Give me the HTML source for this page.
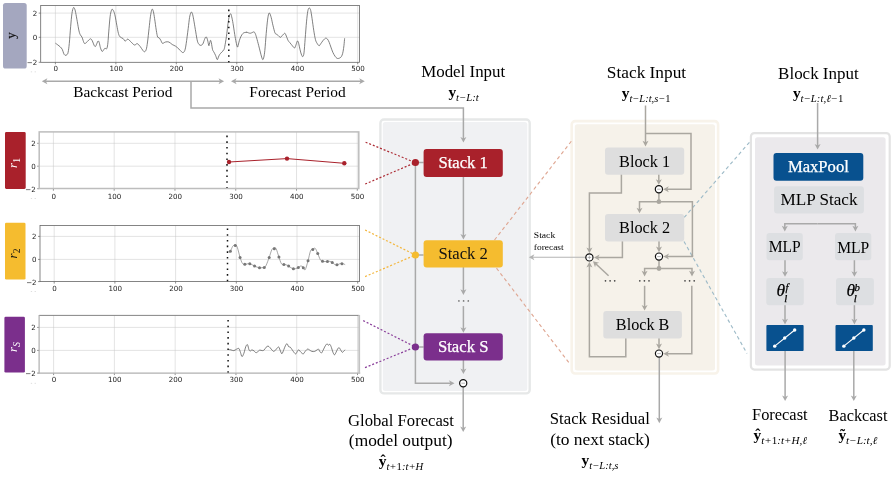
<!DOCTYPE html>
<html lang="en">
<head>
<meta charset="utf-8">
<title>N-HiTS architecture</title>
<style>
html,body{margin:0;padding:0;background:#fff;}
body{width:893px;height:478px;overflow:hidden;font-family:"Liberation Serif",serif;}
svg{display:block;will-change:transform;}
</style>
</head>
<body>
<svg width="893" height="478" viewBox="0 0 893 478">
<rect x="0" y="0" width="893" height="478" fill="#ffffff"/>
<rect x="750.90" y="133.10" width="138.80" height="236.50" rx="3.5" fill="#fff" stroke="#e3e3e3" stroke-width="2.2"/><rect x="755.00" y="137.20" width="130.60" height="228.30" rx="2.5" fill="#ebe9ec"/>
<rect x="571.70" y="121.10" width="146.40" height="252.40" rx="3.5" fill="#fff" stroke="#f8f3ea" stroke-width="2.6"/><rect x="574.80" y="124.20" width="140.20" height="246.20" rx="2.5" fill="#f6f2ea"/>
<rect x="380.40" y="119.50" width="149.30" height="273.90" rx="3.5" fill="#fff" stroke="#e6e8e8" stroke-width="2.4"/><rect x="382.80" y="121.90" width="144.50" height="269.10" rx="2.5" fill="#f0f1f3"/>
<rect x="3.00" y="3.00" width="23.70" height="65.60" rx="2.6" fill="#a4a7bf"/><text transform="translate(14.9,35.6) rotate(-90)" font-family="'Liberation Serif', serif" font-size="13" text-anchor="middle" fill="#111" stroke="#111" stroke-width="0.2">y</text>
<rect x="40.70" y="5.50" width="318.70" height="56.80" fill="#fff"/><line x1="55.40" y1="5.50" x2="55.40" y2="62.30" stroke="#c6c6c6" stroke-width="0.5"/><line x1="55.40" y1="62.30" x2="55.40" y2="64.30" stroke="#444" stroke-width="0.6"/><text x="55.70" y="71.10" font-family="'DejaVu Sans', sans-serif" font-size="7.1" text-anchor="middle" fill="#222">0</text><line x1="115.86" y1="5.50" x2="115.86" y2="62.30" stroke="#c6c6c6" stroke-width="0.5"/><line x1="115.86" y1="62.30" x2="115.86" y2="64.30" stroke="#444" stroke-width="0.6"/><text x="116.16" y="71.10" font-family="'DejaVu Sans', sans-serif" font-size="7.1" text-anchor="middle" fill="#222">100</text><line x1="176.32" y1="5.50" x2="176.32" y2="62.30" stroke="#c6c6c6" stroke-width="0.5"/><line x1="176.32" y1="62.30" x2="176.32" y2="64.30" stroke="#444" stroke-width="0.6"/><text x="176.62" y="71.10" font-family="'DejaVu Sans', sans-serif" font-size="7.1" text-anchor="middle" fill="#222">200</text><line x1="236.78" y1="5.50" x2="236.78" y2="62.30" stroke="#c6c6c6" stroke-width="0.5"/><line x1="236.78" y1="62.30" x2="236.78" y2="64.30" stroke="#444" stroke-width="0.6"/><text x="237.08" y="71.10" font-family="'DejaVu Sans', sans-serif" font-size="7.1" text-anchor="middle" fill="#222">300</text><line x1="297.24" y1="5.50" x2="297.24" y2="62.30" stroke="#c6c6c6" stroke-width="0.5"/><line x1="297.24" y1="62.30" x2="297.24" y2="64.30" stroke="#444" stroke-width="0.6"/><text x="297.54" y="71.10" font-family="'DejaVu Sans', sans-serif" font-size="7.1" text-anchor="middle" fill="#222">400</text><line x1="357.70" y1="5.50" x2="357.70" y2="62.30" stroke="#c6c6c6" stroke-width="0.5"/><line x1="357.70" y1="62.30" x2="357.70" y2="64.30" stroke="#444" stroke-width="0.6"/><text x="358.00" y="71.10" font-family="'DejaVu Sans', sans-serif" font-size="7.1" text-anchor="middle" fill="#222">500</text><line x1="40.70" y1="13.10" x2="359.40" y2="13.10" stroke="#c6c6c6" stroke-width="0.5"/><line x1="38.70" y1="13.10" x2="40.70" y2="13.10" stroke="#444" stroke-width="0.6"/><text x="37.30" y="16.10" font-family="'DejaVu Sans', sans-serif" font-size="7.1" text-anchor="end" fill="#222">2</text><line x1="40.70" y1="37.30" x2="359.40" y2="37.30" stroke="#c6c6c6" stroke-width="0.5"/><line x1="38.70" y1="37.30" x2="40.70" y2="37.30" stroke="#444" stroke-width="0.6"/><text x="37.30" y="40.30" font-family="'DejaVu Sans', sans-serif" font-size="7.1" text-anchor="end" fill="#222">0</text><line x1="38.70" y1="62.30" x2="40.70" y2="62.30" stroke="#444" stroke-width="0.6"/><text x="37.30" y="65.30" font-family="'DejaVu Sans', sans-serif" font-size="7.1" text-anchor="end" fill="#222">−2</text>
<path d="M55.40,43.18C55.79,43.46 56.93,44.24 57.74,44.85C58.55,45.47 59.50,46.11 60.25,46.86C61.00,47.62 61.70,48.31 62.26,49.37C62.82,50.43 63.15,52.25 63.60,53.22C64.04,54.20 64.38,54.98 64.94,55.23C65.50,55.48 66.42,55.23 66.95,54.73C67.48,54.23 67.73,54.09 68.12,52.22C68.51,50.35 68.87,47.75 69.29,43.51C69.71,39.27 70.18,31.80 70.63,26.78C71.07,21.76 71.52,16.54 71.97,13.39C72.41,10.24 72.89,8.70 73.31,7.87C73.72,7.03 74.09,7.59 74.48,8.37C74.87,9.15 75.17,10.32 75.65,12.55C76.12,14.78 76.76,18.69 77.32,21.76C77.88,24.83 78.49,28.79 79.00,30.96C79.50,33.14 79.83,33.78 80.33,34.81C80.84,35.84 81.53,36.18 82.01,37.15C82.48,38.13 82.76,39.61 83.18,40.67C83.60,41.73 84.02,43.18 84.52,43.51C85.02,43.85 85.50,43.24 86.19,42.68C86.89,42.12 87.95,40.81 88.70,40.17C89.46,39.53 90.10,38.69 90.71,38.83C91.32,38.97 91.83,39.94 92.38,41.00C92.94,42.06 93.56,44.27 94.06,45.19C94.56,46.11 94.95,46.75 95.40,46.53C95.84,46.30 96.29,44.77 96.74,43.85C97.18,42.93 97.66,41.20 98.08,41.00C98.49,40.81 98.86,41.56 99.25,42.68C99.64,43.79 99.94,46.25 100.42,47.70C100.89,49.15 101.53,51.05 102.09,51.38C102.65,51.72 103.29,50.24 103.77,49.71C104.24,49.18 104.52,48.34 104.94,48.20C105.36,48.06 105.92,48.92 106.28,48.87C106.63,48.82 106.79,48.88 107.06,47.88C107.33,46.87 107.62,45.50 107.90,42.84C108.18,40.18 108.37,36.26 108.74,31.92C109.10,27.58 109.66,20.30 110.08,16.80C110.50,13.30 110.89,12.18 111.25,10.92C111.62,9.66 111.84,9.16 112.26,9.24C112.68,9.32 113.30,10.30 113.77,11.42C114.25,12.54 114.61,13.66 115.12,15.96C115.62,18.25 116.24,22.26 116.80,25.20C117.36,28.14 117.92,31.64 118.48,33.60C119.04,35.56 119.37,36.12 120.16,36.96C120.94,37.80 122.34,37.94 123.18,38.64C124.02,39.34 124.44,41.07 125.20,41.16C125.95,41.24 126.74,39.00 127.72,39.14C128.70,39.28 129.96,41.02 131.08,42.00C132.20,42.98 133.40,44.74 134.44,45.02C135.47,45.30 136.31,43.40 137.29,43.68C138.27,43.96 139.39,45.58 140.32,46.70C141.24,47.82 142.14,49.55 142.84,50.39C143.54,51.23 143.96,51.88 144.52,51.74C145.08,51.60 145.69,51.18 146.20,49.55C146.70,47.93 147.06,45.50 147.54,42.00C148.02,38.50 148.57,32.76 149.05,28.56C149.53,24.36 149.97,19.82 150.39,16.80C150.81,13.77 151.23,11.67 151.57,10.41C151.91,9.16 152.10,9.02 152.41,9.24C152.72,9.46 153.05,10.22 153.42,11.76C153.78,13.30 154.12,15.40 154.59,18.48C155.07,21.56 155.77,27.16 156.27,30.24C156.78,33.32 157.14,35.70 157.62,36.96C158.09,38.22 158.60,37.24 159.13,37.80C159.66,38.36 160.25,39.39 160.81,40.32C161.37,41.24 161.71,43.06 162.49,43.34C163.27,43.62 164.45,42.22 165.51,42.00C166.58,41.77 167.75,41.58 168.87,42.00C169.99,42.42 171.11,43.82 172.23,44.52C173.35,45.22 174.47,45.44 175.59,46.20C176.71,46.95 177.97,48.13 178.95,49.05C179.93,49.97 180.77,51.15 181.47,51.74C182.17,52.33 182.59,52.80 183.15,52.58C183.71,52.35 184.33,51.88 184.83,50.39C185.34,48.91 185.62,47.32 186.18,43.68C186.73,40.04 187.63,32.90 188.19,28.56C188.75,24.22 189.11,20.21 189.53,17.64C189.95,15.06 190.37,14.03 190.71,13.10C191.05,12.18 191.21,11.81 191.55,12.09C191.89,12.37 192.31,13.16 192.73,14.78C193.15,16.41 193.57,18.98 194.07,21.84C194.57,24.69 195.19,28.70 195.75,31.92C196.31,35.14 196.87,39.06 197.43,41.16C197.99,43.26 198.55,43.82 199.11,44.52C199.67,45.22 200.17,45.44 200.79,45.36C201.41,45.27 202.19,44.99 202.81,44.01C203.42,43.03 203.98,40.65 204.49,39.48C204.99,38.30 205.44,37.24 205.83,36.96C206.22,36.68 206.50,37.10 206.84,37.80C207.17,38.50 207.51,39.84 207.84,41.16C208.18,42.47 208.54,45.41 208.85,45.69C209.16,45.97 209.41,43.73 209.69,42.84C209.97,41.94 210.25,40.32 210.53,40.32C210.81,40.32 211.04,41.30 211.37,42.84C211.71,44.38 212.13,48.02 212.55,49.55C212.97,51.09 213.39,51.09 213.89,52.07C214.40,53.05 215.01,54.17 215.57,55.43C216.13,56.69 216.78,59.35 217.25,59.63C217.73,59.91 218.04,57.95 218.43,57.11C218.82,56.27 219.04,55.43 219.60,54.59C220.16,53.75 221.06,52.91 221.79,52.07C222.52,51.23 223.41,50.81 223.97,49.55C224.53,48.29 224.67,47.18 225.15,44.52C225.62,41.86 226.35,37.10 226.83,33.60C227.30,30.10 227.58,26.46 228.00,23.52C228.42,20.58 228.90,17.58 229.35,15.96C229.79,14.33 230.30,13.63 230.69,13.77C231.08,13.91 231.31,15.17 231.70,16.80C232.09,18.42 232.54,20.58 233.04,23.52C233.55,26.46 234.22,31.36 234.72,34.44C235.23,37.52 235.62,39.90 236.07,42.00C236.51,44.10 237.05,46.53 237.41,47.04C237.77,47.54 237.91,46.14 238.25,45.02C238.59,43.90 238.95,41.80 239.43,40.32C239.90,38.83 240.55,37.24 241.11,36.12C241.67,35.00 242.23,34.18 242.79,33.60C243.35,33.01 243.77,32.81 244.46,32.59C245.16,32.36 246.58,32.31 246.98,32.25C247.39,32.20 246.34,32.08 246.88,32.25C247.42,32.42 249.26,33.26 250.24,33.26C251.22,33.26 252.11,32.48 252.76,32.25C253.40,32.03 253.68,31.69 254.10,31.92C254.52,32.14 254.86,32.62 255.28,33.60C255.70,34.58 256.06,35.84 256.62,37.80C257.18,39.76 258.02,42.98 258.64,45.36C259.25,47.74 259.81,50.11 260.32,52.07C260.82,54.03 261.24,55.85 261.66,57.11C262.08,58.37 262.47,59.63 262.84,59.63C263.20,59.63 263.51,58.65 263.84,57.11C264.18,55.57 264.46,54.31 264.85,50.39C265.24,46.48 265.75,38.64 266.20,33.60C266.64,28.56 267.12,23.46 267.54,20.16C267.96,16.85 268.35,14.89 268.71,13.77C269.08,12.65 269.30,12.79 269.72,13.44C270.14,14.08 270.70,15.68 271.23,17.64C271.77,19.60 272.30,22.68 272.91,25.20C273.53,27.72 274.37,31.27 274.93,32.76C275.49,34.24 275.77,33.68 276.27,34.10C276.78,34.52 277.25,34.74 277.95,35.28C278.65,35.81 279.72,37.29 280.47,37.29C281.23,37.29 281.79,35.95 282.49,35.28C283.19,34.60 284.11,33.32 284.67,33.26C285.23,33.20 285.29,33.76 285.85,34.94C286.41,36.12 287.39,39.06 288.03,40.32C288.68,41.58 289.15,41.80 289.71,42.50C290.27,43.20 290.78,43.76 291.39,44.52C292.01,45.27 292.85,46.48 293.41,47.04C293.97,47.60 294.30,48.29 294.75,47.88C295.20,47.46 295.68,45.64 296.10,44.52C296.52,43.40 296.91,41.58 297.27,41.16C297.64,40.74 297.94,41.16 298.28,42.00C298.62,42.84 298.90,44.52 299.29,46.20C299.68,47.88 300.21,50.53 300.63,52.07C301.05,53.61 301.44,54.68 301.81,55.43C302.17,56.19 302.45,57.03 302.82,56.61C303.18,56.19 303.60,55.91 303.99,52.91C304.38,49.92 304.75,43.82 305.17,38.64C305.59,33.46 306.09,26.32 306.51,21.84C306.93,17.36 307.32,14.00 307.69,11.76C308.05,9.52 308.39,9.02 308.69,8.40C309.00,7.78 309.20,7.73 309.53,8.06C309.87,8.40 310.29,8.68 310.71,10.41C311.13,12.15 311.55,15.17 312.05,18.48C312.56,21.78 313.17,26.74 313.73,30.24C314.29,33.74 314.85,37.29 315.41,39.48C315.97,41.66 316.48,42.30 317.09,43.34C317.71,44.38 318.49,45.64 319.11,45.69C319.73,45.75 320.17,44.49 320.79,43.68C321.41,42.86 322.19,41.60 322.81,40.82C323.42,40.04 323.98,39.42 324.49,38.97C324.99,38.52 325.33,38.10 325.83,38.13C326.33,38.16 326.95,38.44 327.51,39.14C328.07,39.84 328.63,41.02 329.19,42.33C329.75,43.65 330.25,45.36 330.87,47.04C331.48,48.71 332.18,50.87 332.88,52.41C333.58,53.95 334.42,55.32 335.07,56.27C335.71,57.23 336.19,57.76 336.75,58.12C337.31,58.49 337.78,58.57 338.43,58.46C339.07,58.35 340.00,58.01 340.61,57.45C341.23,56.89 341.70,56.13 342.12,55.10C342.54,54.06 342.82,52.86 343.13,51.23C343.44,49.61 343.72,47.51 343.97,45.36C344.22,43.20 344.53,39.48 344.64,38.30" fill="none" stroke="#555" stroke-width="0.75" stroke-linejoin="round"/>
<line x1="228.80" y1="62.50" x2="228.80" y2="9.50" stroke="#111" stroke-width="1.5" stroke-dasharray="1.6 4.1"/>
<rect x="40.70" y="5.50" width="318.70" height="56.80" fill="none" stroke="#666" stroke-width="0.8"/>
<line x1="44.80" y1="81.30" x2="221.10" y2="81.30" stroke="#a9a9a9" stroke-width="1.5"/><polygon points="41.80,81.30 47.40,84.30 45.90,81.30 47.40,78.30" fill="#a9a9a9"/><polygon points="224.10,81.30 218.50,78.30 220.00,81.30 218.50,84.30" fill="#a9a9a9"/>
<line x1="234.00" y1="81.30" x2="361.80" y2="81.30" stroke="#a9a9a9" stroke-width="1.5"/><polygon points="231.00,81.30 236.60,84.30 235.10,81.30 236.60,78.30" fill="#a9a9a9"/><polygon points="364.80,81.30 359.20,78.30 360.70,81.30 359.20,84.30" fill="#a9a9a9"/>
<text x="122.80" y="96.50" font-family="'Liberation Serif', serif" font-size="15.5" text-anchor="middle" fill="#000" textLength="99.00" lengthAdjust="spacingAndGlyphs" >Backcast Period</text>
<text x="297.50" y="96.50" font-family="'Liberation Serif', serif" font-size="15.5" text-anchor="middle" fill="#000" textLength="96.30" lengthAdjust="spacingAndGlyphs" >Forecast Period</text>
<polyline points="191.00,81.30 191.00,108.00 463.40,108.00 463.40,139.60" fill="none" stroke="#a9a9a9" stroke-width="1.5" /><polygon points="463.40,142.60 466.40,137.00 463.40,138.50 460.40,137.00" fill="#a9a9a9"/>
<rect x="5.00" y="132.10" width="20.70" height="56.80" rx="1.3" fill="#a9212b"/><text transform="translate(16.7,163) rotate(-90)" font-family="'Liberation Serif', serif" font-style="italic" font-size="13" text-anchor="middle" fill="#fff">r<tspan font-style="normal" font-size="9.5" dy="3.2">1</tspan></text>
<rect x="39.20" y="131.90" width="319.60" height="56.80" fill="#fff"/><line x1="53.40" y1="131.90" x2="53.40" y2="188.70" stroke="#c6c6c6" stroke-width="0.5"/><line x1="53.40" y1="188.70" x2="53.40" y2="190.70" stroke="#444" stroke-width="0.6"/><text x="53.70" y="198.50" font-family="'DejaVu Sans', sans-serif" font-size="7.1" text-anchor="middle" fill="#222">0</text><line x1="114.18" y1="131.90" x2="114.18" y2="188.70" stroke="#c6c6c6" stroke-width="0.5"/><line x1="114.18" y1="188.70" x2="114.18" y2="190.70" stroke="#444" stroke-width="0.6"/><text x="114.48" y="198.50" font-family="'DejaVu Sans', sans-serif" font-size="7.1" text-anchor="middle" fill="#222">100</text><line x1="174.96" y1="131.90" x2="174.96" y2="188.70" stroke="#c6c6c6" stroke-width="0.5"/><line x1="174.96" y1="188.70" x2="174.96" y2="190.70" stroke="#444" stroke-width="0.6"/><text x="175.26" y="198.50" font-family="'DejaVu Sans', sans-serif" font-size="7.1" text-anchor="middle" fill="#222">200</text><line x1="235.74" y1="131.90" x2="235.74" y2="188.70" stroke="#c6c6c6" stroke-width="0.5"/><line x1="235.74" y1="188.70" x2="235.74" y2="190.70" stroke="#444" stroke-width="0.6"/><text x="236.04" y="198.50" font-family="'DejaVu Sans', sans-serif" font-size="7.1" text-anchor="middle" fill="#222">300</text><line x1="296.52" y1="131.90" x2="296.52" y2="188.70" stroke="#c6c6c6" stroke-width="0.5"/><line x1="296.52" y1="188.70" x2="296.52" y2="190.70" stroke="#444" stroke-width="0.6"/><text x="296.82" y="198.50" font-family="'DejaVu Sans', sans-serif" font-size="7.1" text-anchor="middle" fill="#222">400</text><line x1="357.30" y1="131.90" x2="357.30" y2="188.70" stroke="#c6c6c6" stroke-width="0.5"/><line x1="357.30" y1="188.70" x2="357.30" y2="190.70" stroke="#444" stroke-width="0.6"/><text x="357.60" y="198.50" font-family="'DejaVu Sans', sans-serif" font-size="7.1" text-anchor="middle" fill="#222">500</text><line x1="39.20" y1="143.30" x2="358.80" y2="143.30" stroke="#c6c6c6" stroke-width="0.5"/><line x1="37.20" y1="143.30" x2="39.20" y2="143.30" stroke="#444" stroke-width="0.6"/><text x="35.80" y="146.30" font-family="'DejaVu Sans', sans-serif" font-size="7.1" text-anchor="end" fill="#222">2</text><line x1="39.20" y1="166.20" x2="358.80" y2="166.20" stroke="#c6c6c6" stroke-width="0.5"/><line x1="37.20" y1="166.20" x2="39.20" y2="166.20" stroke="#444" stroke-width="0.6"/><text x="35.80" y="169.20" font-family="'DejaVu Sans', sans-serif" font-size="7.1" text-anchor="end" fill="#222">0</text><line x1="37.20" y1="188.70" x2="39.20" y2="188.70" stroke="#444" stroke-width="0.6"/><text x="35.80" y="191.70" font-family="'DejaVu Sans', sans-serif" font-size="7.1" text-anchor="end" fill="#222">−2</text>
<polyline points="229,162 287,158.6 344.3,163.3" fill="none" stroke="#a9212b" stroke-width="1"/>
<circle cx="229.00" cy="162.00" r="2.2" fill="#a9212b"/>
<circle cx="287.00" cy="158.60" r="2.2" fill="#a9212b"/>
<circle cx="344.30" cy="163.30" r="2.2" fill="#a9212b"/>
<line x1="227.00" y1="188.50" x2="227.00" y2="135.40" stroke="#111" stroke-width="1.5" stroke-dasharray="1.6 4.1"/>
<rect x="39.20" y="131.90" width="319.60" height="56.60" fill="none" stroke="#bdbdbd" stroke-width="1.5"/>
<rect x="5.00" y="222.80" width="20.50" height="56.70" rx="1.3" fill="#f5bc2f"/><text transform="translate(16.7,253.5) rotate(-90)" font-family="'Liberation Serif', serif" font-style="italic" font-size="13" text-anchor="middle" fill="#111">r<tspan font-style="normal" font-size="9.5" dy="3.2">2</tspan></text>
<rect x="40.00" y="225.50" width="319.40" height="56.10" fill="#fff"/><line x1="54.20" y1="225.50" x2="54.20" y2="281.60" stroke="#c6c6c6" stroke-width="0.5"/><line x1="54.20" y1="281.60" x2="54.20" y2="283.60" stroke="#444" stroke-width="0.6"/><text x="54.50" y="290.50" font-family="'DejaVu Sans', sans-serif" font-size="7.1" text-anchor="middle" fill="#222">0</text><line x1="114.90" y1="225.50" x2="114.90" y2="281.60" stroke="#c6c6c6" stroke-width="0.5"/><line x1="114.90" y1="281.60" x2="114.90" y2="283.60" stroke="#444" stroke-width="0.6"/><text x="115.20" y="290.50" font-family="'DejaVu Sans', sans-serif" font-size="7.1" text-anchor="middle" fill="#222">100</text><line x1="175.60" y1="225.50" x2="175.60" y2="281.60" stroke="#c6c6c6" stroke-width="0.5"/><line x1="175.60" y1="281.60" x2="175.60" y2="283.60" stroke="#444" stroke-width="0.6"/><text x="175.90" y="290.50" font-family="'DejaVu Sans', sans-serif" font-size="7.1" text-anchor="middle" fill="#222">200</text><line x1="236.30" y1="225.50" x2="236.30" y2="281.60" stroke="#c6c6c6" stroke-width="0.5"/><line x1="236.30" y1="281.60" x2="236.30" y2="283.60" stroke="#444" stroke-width="0.6"/><text x="236.60" y="290.50" font-family="'DejaVu Sans', sans-serif" font-size="7.1" text-anchor="middle" fill="#222">300</text><line x1="297.00" y1="225.50" x2="297.00" y2="281.60" stroke="#c6c6c6" stroke-width="0.5"/><line x1="297.00" y1="281.60" x2="297.00" y2="283.60" stroke="#444" stroke-width="0.6"/><text x="297.30" y="290.50" font-family="'DejaVu Sans', sans-serif" font-size="7.1" text-anchor="middle" fill="#222">400</text><line x1="357.70" y1="225.50" x2="357.70" y2="281.60" stroke="#c6c6c6" stroke-width="0.5"/><line x1="357.70" y1="281.60" x2="357.70" y2="283.60" stroke="#444" stroke-width="0.6"/><text x="358.00" y="290.50" font-family="'DejaVu Sans', sans-serif" font-size="7.1" text-anchor="middle" fill="#222">500</text><line x1="40.00" y1="236.40" x2="359.40" y2="236.40" stroke="#c6c6c6" stroke-width="0.5"/><line x1="38.00" y1="236.40" x2="40.00" y2="236.40" stroke="#444" stroke-width="0.6"/><text x="36.60" y="239.40" font-family="'DejaVu Sans', sans-serif" font-size="7.1" text-anchor="end" fill="#222">2</text><line x1="40.00" y1="259.40" x2="359.40" y2="259.40" stroke="#c6c6c6" stroke-width="0.5"/><line x1="38.00" y1="259.40" x2="40.00" y2="259.40" stroke="#444" stroke-width="0.6"/><text x="36.60" y="262.40" font-family="'DejaVu Sans', sans-serif" font-size="7.1" text-anchor="end" fill="#222">0</text><line x1="38.00" y1="281.60" x2="40.00" y2="281.60" stroke="#444" stroke-width="0.6"/><text x="36.60" y="284.60" font-family="'DejaVu Sans', sans-serif" font-size="7.1" text-anchor="end" fill="#222">−2</text>
<path d="M229.04,252.26C229.26,252.10 229.73,252.33 230.37,251.31C231.00,250.29 232.02,247.25 232.84,246.17C233.67,245.09 234.59,244.68 235.32,244.84C236.05,245.00 236.43,245.03 237.22,247.12C238.02,249.22 239.22,254.70 240.08,257.40C240.93,260.10 241.57,262.16 242.36,263.30C243.16,264.45 244.04,264.16 244.84,264.25C245.63,264.35 246.30,263.97 247.12,263.87C247.95,263.78 248.93,263.52 249.79,263.68C250.64,263.84 251.47,264.45 252.26,264.83C253.05,265.21 253.75,265.59 254.55,265.97C255.34,266.35 256.20,266.82 257.02,267.11C257.85,267.40 258.29,267.62 259.50,267.68C260.70,267.74 263.14,267.90 264.25,267.49C265.37,267.08 265.33,266.89 266.16,265.21C266.98,263.52 268.25,260.00 269.20,257.40C270.16,254.80 271.01,251.21 271.87,249.60C272.73,247.98 273.61,247.79 274.34,247.69C275.07,247.60 275.49,247.47 276.25,249.03C277.01,250.58 278.06,254.58 278.91,257.02C279.77,259.46 280.56,262.45 281.39,263.68C282.21,264.92 283.07,264.25 283.86,264.45C284.66,264.64 285.35,264.57 286.15,264.83C286.94,265.08 287.83,265.49 288.62,265.97C289.41,266.44 290.11,267.21 290.91,267.68C291.70,268.16 292.59,268.66 293.38,268.82C294.17,268.98 294.84,268.86 295.67,268.63C296.49,268.41 297.47,267.94 298.33,267.49C299.19,267.05 299.98,266.03 300.81,265.97C301.63,265.90 302.55,266.48 303.28,267.11C304.01,267.74 304.39,270.85 305.18,269.78C305.98,268.70 307.15,263.78 308.04,260.64C308.93,257.50 309.72,252.86 310.51,250.93C311.31,248.99 312.01,249.44 312.80,249.03C313.59,248.61 314.45,247.69 315.27,248.45C316.10,249.22 316.89,251.69 317.75,253.59C318.60,255.50 319.62,258.61 320.41,259.88C321.21,261.15 321.71,260.92 322.51,261.21C323.30,261.49 324.35,261.59 325.17,261.59C326.00,261.59 326.66,261.24 327.46,261.21C328.25,261.18 329.14,261.18 329.93,261.40C330.72,261.62 331.42,262.03 332.22,262.54C333.01,263.05 333.90,264.03 334.69,264.45C335.48,264.86 336.18,265.11 336.98,265.02C337.77,264.92 338.62,264.16 339.45,263.87C340.27,263.59 340.97,263.18 341.92,263.30C342.88,263.43 344.62,264.41 345.16,264.64" fill="none" stroke="#777" stroke-width="0.65"/>
<circle cx="230.37" cy="251.31" r="1.5" fill="#777"/>
<circle cx="235.32" cy="245.41" r="1.5" fill="#777"/>
<circle cx="240.08" cy="257.40" r="1.5" fill="#777"/>
<circle cx="244.84" cy="264.25" r="1.5" fill="#777"/>
<circle cx="249.79" cy="263.87" r="1.5" fill="#777"/>
<circle cx="254.55" cy="265.97" r="1.5" fill="#777"/>
<circle cx="259.50" cy="267.68" r="1.5" fill="#777"/>
<circle cx="264.25" cy="267.49" r="1.5" fill="#777"/>
<circle cx="269.20" cy="257.40" r="1.5" fill="#777"/>
<circle cx="274.34" cy="248.64" r="1.5" fill="#777"/>
<circle cx="278.91" cy="257.02" r="1.5" fill="#777"/>
<circle cx="283.86" cy="264.45" r="1.5" fill="#777"/>
<circle cx="288.62" cy="265.97" r="1.5" fill="#777"/>
<circle cx="293.38" cy="268.82" r="1.5" fill="#777"/>
<circle cx="298.33" cy="267.49" r="1.5" fill="#777"/>
<circle cx="303.28" cy="267.87" r="1.5" fill="#777"/>
<circle cx="308.04" cy="260.64" r="1.5" fill="#777"/>
<circle cx="312.80" cy="249.41" r="1.5" fill="#777"/>
<circle cx="317.75" cy="253.59" r="1.5" fill="#777"/>
<circle cx="322.51" cy="261.21" r="1.5" fill="#777"/>
<circle cx="327.46" cy="261.59" r="1.5" fill="#777"/>
<circle cx="332.22" cy="262.54" r="1.5" fill="#777"/>
<circle cx="336.98" cy="264.64" r="1.5" fill="#777"/>
<circle cx="341.92" cy="263.68" r="1.5" fill="#777"/>
<line x1="227.50" y1="281.40" x2="227.50" y2="228.10" stroke="#111" stroke-width="1.5" stroke-dasharray="1.6 4.1"/>
<rect x="40.00" y="225.50" width="319.40" height="56.10" fill="none" stroke="#666" stroke-width="0.8"/>
<rect x="4.40" y="316.70" width="20.50" height="55.80" rx="1.3" fill="#7b2f8c"/><text transform="translate(16.7,347) rotate(-90)" font-family="'Liberation Serif', serif" font-style="italic" font-size="13" text-anchor="middle" fill="#fff">r<tspan font-size="9.5" dy="3.2">S</tspan></text>
<rect x="39.10" y="315.30" width="320.30" height="57.80" fill="#fff"/><line x1="53.60" y1="315.30" x2="53.60" y2="373.10" stroke="#c6c6c6" stroke-width="0.5"/><line x1="53.60" y1="373.10" x2="53.60" y2="375.10" stroke="#444" stroke-width="0.6"/><text x="53.90" y="382.00" font-family="'DejaVu Sans', sans-serif" font-size="7.1" text-anchor="middle" fill="#222">0</text><line x1="114.38" y1="315.30" x2="114.38" y2="373.10" stroke="#c6c6c6" stroke-width="0.5"/><line x1="114.38" y1="373.10" x2="114.38" y2="375.10" stroke="#444" stroke-width="0.6"/><text x="114.68" y="382.00" font-family="'DejaVu Sans', sans-serif" font-size="7.1" text-anchor="middle" fill="#222">100</text><line x1="175.16" y1="315.30" x2="175.16" y2="373.10" stroke="#c6c6c6" stroke-width="0.5"/><line x1="175.16" y1="373.10" x2="175.16" y2="375.10" stroke="#444" stroke-width="0.6"/><text x="175.46" y="382.00" font-family="'DejaVu Sans', sans-serif" font-size="7.1" text-anchor="middle" fill="#222">200</text><line x1="235.94" y1="315.30" x2="235.94" y2="373.10" stroke="#c6c6c6" stroke-width="0.5"/><line x1="235.94" y1="373.10" x2="235.94" y2="375.10" stroke="#444" stroke-width="0.6"/><text x="236.24" y="382.00" font-family="'DejaVu Sans', sans-serif" font-size="7.1" text-anchor="middle" fill="#222">300</text><line x1="296.72" y1="315.30" x2="296.72" y2="373.10" stroke="#c6c6c6" stroke-width="0.5"/><line x1="296.72" y1="373.10" x2="296.72" y2="375.10" stroke="#444" stroke-width="0.6"/><text x="297.02" y="382.00" font-family="'DejaVu Sans', sans-serif" font-size="7.1" text-anchor="middle" fill="#222">400</text><line x1="357.50" y1="315.30" x2="357.50" y2="373.10" stroke="#c6c6c6" stroke-width="0.5"/><line x1="357.50" y1="373.10" x2="357.50" y2="375.10" stroke="#444" stroke-width="0.6"/><text x="357.80" y="382.00" font-family="'DejaVu Sans', sans-serif" font-size="7.1" text-anchor="middle" fill="#222">500</text><line x1="39.10" y1="327.40" x2="359.40" y2="327.40" stroke="#c6c6c6" stroke-width="0.5"/><line x1="37.10" y1="327.40" x2="39.10" y2="327.40" stroke="#444" stroke-width="0.6"/><text x="35.70" y="330.40" font-family="'DejaVu Sans', sans-serif" font-size="7.1" text-anchor="end" fill="#222">2</text><line x1="39.10" y1="350.40" x2="359.40" y2="350.40" stroke="#c6c6c6" stroke-width="0.5"/><line x1="37.10" y1="350.40" x2="39.10" y2="350.40" stroke="#444" stroke-width="0.6"/><text x="35.70" y="353.40" font-family="'DejaVu Sans', sans-serif" font-size="7.1" text-anchor="end" fill="#222">0</text><line x1="37.10" y1="373.10" x2="39.10" y2="373.10" stroke="#444" stroke-width="0.6"/><text x="35.70" y="376.10" font-family="'DejaVu Sans', sans-serif" font-size="7.1" text-anchor="end" fill="#222">−2</text>
<path d="M228.66,349.50C229.04,349.56 230.08,349.69 230.94,349.88C231.80,350.07 232.84,350.76 233.80,350.64C234.75,350.51 235.79,349.46 236.65,349.11C237.51,348.77 238.30,348.00 238.94,348.54C239.57,349.08 239.95,351.02 240.46,352.35C240.97,353.68 241.41,356.38 241.98,356.54C242.55,356.70 243.25,354.95 243.89,353.30C244.52,351.65 245.19,348.07 245.79,346.64C246.39,345.21 246.96,344.20 247.50,344.74C248.04,345.28 248.55,348.83 249.03,349.88C249.50,350.92 249.88,351.02 250.36,351.02C250.83,351.02 251.25,349.88 251.88,349.88C252.52,349.88 253.47,350.54 254.17,351.02C254.86,351.49 255.34,352.73 256.07,352.73C256.80,352.73 257.91,351.46 258.54,351.02C259.18,350.57 259.24,350.13 259.88,350.07C260.51,350.00 261.62,350.67 262.35,350.64C263.08,350.61 263.62,350.45 264.25,349.88C264.89,349.31 265.52,347.85 266.16,347.21C266.79,346.58 267.43,346.01 268.06,346.07C268.70,346.13 269.33,346.96 269.97,347.59C270.60,348.23 271.23,349.24 271.87,349.88C272.50,350.51 273.14,351.40 273.77,351.40C274.41,351.40 275.04,350.51 275.68,349.88C276.31,349.24 277.04,348.04 277.58,347.59C278.12,347.15 278.44,346.64 278.91,347.21C279.39,347.78 279.93,349.94 280.44,351.02C280.94,352.10 281.39,353.94 281.96,353.68C282.53,353.43 283.26,350.89 283.86,349.50C284.47,348.10 285.04,346.26 285.58,345.31C286.12,344.36 286.59,343.56 287.10,343.78C287.61,344.01 288.08,346.07 288.62,346.64C289.16,347.21 289.73,346.67 290.34,347.21C290.94,347.75 291.51,348.86 292.24,349.88C292.97,350.89 294.08,352.67 294.71,353.30C295.35,353.94 295.57,354.06 296.05,353.68C296.52,353.30 297.09,351.65 297.57,351.02C298.04,350.38 298.33,349.65 298.90,349.88C299.47,350.10 300.27,351.68 301.00,352.35C301.73,353.02 302.58,354.03 303.28,353.87C303.98,353.72 304.49,352.19 305.18,351.40C305.88,350.61 306.77,349.37 307.47,349.11C308.17,348.86 308.64,349.50 309.37,349.88C310.10,350.26 310.96,351.15 311.85,351.40C312.73,351.65 313.85,351.65 314.70,351.40C315.56,351.15 316.35,350.26 316.99,349.88C317.62,349.50 318.00,348.80 318.51,349.11C319.02,349.43 319.52,351.15 320.03,351.78C320.54,352.41 321.02,353.24 321.56,352.92C322.09,352.60 322.67,351.02 323.27,349.88C323.87,348.73 324.54,347.08 325.17,346.07C325.81,345.05 326.54,343.91 327.08,343.78C327.62,343.66 327.93,345.21 328.41,345.31C328.88,345.40 329.42,343.97 329.93,344.36C330.44,344.74 330.95,346.26 331.45,347.59C331.96,348.92 332.47,351.15 332.98,352.35C333.48,353.56 333.99,354.83 334.50,354.83C335.01,354.83 335.52,353.30 336.02,352.35C336.53,351.40 337.04,349.91 337.55,349.11C338.05,348.32 338.56,347.46 339.07,347.59C339.58,347.72 340.05,349.08 340.59,349.88C341.13,350.67 341.77,352.16 342.31,352.35C342.84,352.54 343.35,351.43 343.83,351.02C344.30,350.61 344.94,350.07 345.16,349.88" fill="none" stroke="#555" stroke-width="0.75"/>
<line x1="228.10" y1="372.90" x2="228.10" y2="319.10" stroke="#111" stroke-width="1.5" stroke-dasharray="1.6 4.1"/>
<line x1="39.1" y1="315.4" x2="359.4" y2="315.4" stroke="#777" stroke-width="0.9"/>
<line x1="39.1" y1="315" x2="39.1" y2="373.6" stroke="#a8a8a8" stroke-width="1.1"/>
<line x1="38.6" y1="373.1" x2="360.2" y2="373.1" stroke="#b0b0b0" stroke-width="1.2"/>
<line x1="359.2" y1="315" x2="359.2" y2="373.6" stroke="#c2c2c2" stroke-width="1.8"/>
<rect x="30.8" y="71.60" width="1.3" height="0.6" fill="#c8c8c8"/><rect x="34.6" y="71.60" width="1.3" height="0.6" fill="#c8c8c8"/>
<rect x="30.8" y="198.40" width="1.3" height="0.6" fill="#c8c8c8"/><rect x="34.6" y="198.40" width="1.3" height="0.6" fill="#c8c8c8"/>
<rect x="30.8" y="291.30" width="1.3" height="0.6" fill="#c8c8c8"/><rect x="34.6" y="291.30" width="1.3" height="0.6" fill="#c8c8c8"/>
<rect x="30.8" y="382.90" width="1.3" height="0.6" fill="#c8c8c8"/><rect x="34.6" y="382.90" width="1.3" height="0.6" fill="#c8c8c8"/>
<line x1="365.60" y1="142.20" x2="415.40" y2="162.60" stroke="#ad2c35" stroke-width="1.2" stroke-dasharray="2 1.9"/>
<line x1="365.20" y1="184.00" x2="415.40" y2="162.60" stroke="#ad2c35" stroke-width="1.2" stroke-dasharray="2 1.9"/>
<line x1="365.10" y1="230.00" x2="415.40" y2="255.00" stroke="#f3b63c" stroke-width="1.2" stroke-dasharray="2 1.9"/>
<line x1="365.10" y1="276.60" x2="415.40" y2="255.00" stroke="#f3b63c" stroke-width="1.2" stroke-dasharray="2 1.9"/>
<line x1="363.20" y1="320.60" x2="415.40" y2="347.00" stroke="#8a3f9a" stroke-width="1.2" stroke-dasharray="2 1.9"/>
<line x1="365.00" y1="367.60" x2="415.40" y2="347.00" stroke="#8a3f9a" stroke-width="1.2" stroke-dasharray="2 1.9"/>
<line x1="494.50" y1="240.00" x2="571.50" y2="141.00" stroke="#dfa793" stroke-width="1.15" stroke-dasharray="3.5 2.9"/>
<line x1="496.50" y1="268.20" x2="569.80" y2="363.80" stroke="#dfa793" stroke-width="1.15" stroke-dasharray="3.5 2.9"/>
<line x1="684.20" y1="217.40" x2="750.00" y2="141.60" stroke="#9ebbc8" stroke-width="1.15" stroke-dasharray="3.5 2.9"/>
<line x1="684.00" y1="241.50" x2="747.00" y2="353.50" stroke="#9ebbc8" stroke-width="1.15" stroke-dasharray="3.5 2.9"/>
<polyline points="415.40,162.50 423.60,162.50" fill="none" stroke="#a9a9a9" stroke-width="1.5" />
<polyline points="415.40,255.00 423.60,255.00" fill="none" stroke="#a9a9a9" stroke-width="1.5" />
<polyline points="415.40,347.00 423.60,347.00" fill="none" stroke="#a9a9a9" stroke-width="1.5" />
<polyline points="415.40,162.50 415.40,383.30 451.50,383.30" fill="none" stroke="#a9a9a9" stroke-width="1.5" /><polygon points="454.50,383.30 448.90,380.30 450.40,383.30 448.90,386.30" fill="#a9a9a9"/>
<polyline points="463.40,176.00 463.40,236.60" fill="none" stroke="#a9a9a9" stroke-width="1.5" /><polygon points="463.40,239.60 466.40,234.00 463.40,235.50 460.40,234.00" fill="#a9a9a9"/>
<polyline points="463.40,267.00 463.40,291.90" fill="none" stroke="#a9a9a9" stroke-width="1.5" /><polygon points="463.40,294.90 466.40,289.30 463.40,290.80 460.40,289.30" fill="#a9a9a9"/>
<polyline points="463.40,306.10 463.40,329.80" fill="none" stroke="#a9a9a9" stroke-width="1.5" /><polygon points="463.40,332.80 466.40,327.20 463.40,328.70 460.40,327.20" fill="#a9a9a9"/>
<polyline points="463.40,360.00 463.40,371.00" fill="none" stroke="#a9a9a9" stroke-width="1.5" /><polygon points="463.40,374.00 466.40,368.40 463.40,369.90 460.40,368.40" fill="#a9a9a9"/>
<polyline points="463.20,387.00 463.20,429.00" fill="none" stroke="#a9a9a9" stroke-width="1.5" /><polygon points="463.20,432.00 466.20,426.40 463.20,427.90 460.20,426.40" fill="#a9a9a9"/>
<rect x="423.60" y="148.90" width="79.20" height="28.10" rx="3" fill="#a9212b"/><text x="463.20" y="167.70" font-family="'Liberation Serif', serif" font-size="16.2" text-anchor="middle" fill="#fff" textLength="49.50" lengthAdjust="spacingAndGlyphs" stroke="#fff" stroke-width="0.25">Stack 1</text>
<rect x="423.60" y="240.20" width="79.20" height="27.40" rx="3" fill="#f5bc2f"/><text x="463.20" y="259.00" font-family="'Liberation Serif', serif" font-size="16.2" text-anchor="middle" fill="#111" textLength="49.50" lengthAdjust="spacingAndGlyphs" >Stack 2</text>
<rect x="423.60" y="333.30" width="79.20" height="27.30" rx="3" fill="#7b2f8c"/><text x="463.20" y="352.00" font-family="'Liberation Serif', serif" font-size="16.2" text-anchor="middle" fill="#fff" textLength="50.50" lengthAdjust="spacingAndGlyphs" stroke="#fff" stroke-width="0.25">Stack S</text>
<circle cx="415.40" cy="162.50" r="3.6" fill="#a9212b"/>
<circle cx="415.40" cy="255.00" r="3.6" fill="#f5bc2f"/>
<circle cx="415.40" cy="347.00" r="3.6" fill="#7b2f8c"/>
<circle cx="458.90" cy="300.90" r="0.85" fill="#777"/><circle cx="463.60" cy="300.90" r="0.85" fill="#777"/><circle cx="468.30" cy="300.90" r="0.85" fill="#777"/>
<circle cx="463.20" cy="383.20" r="3.6" fill="#fff" stroke="#111" stroke-width="1.2"/><line x1="461.40" y1="383.20" x2="465.00" y2="383.20" stroke="#999" stroke-width="0.7"/>
<text x="463.20" y="76.90" font-family="'Liberation Serif', serif" font-size="16.2" text-anchor="middle" fill="#000" textLength="84.00" lengthAdjust="spacingAndGlyphs" >Model Input</text>
<text x="646.50" y="78.20" font-family="'Liberation Serif', serif" font-size="16.2" text-anchor="middle" fill="#000" textLength="79.30" lengthAdjust="spacingAndGlyphs" >Stack Input</text>
<text x="818.40" y="78.60" font-family="'Liberation Serif', serif" font-size="16.2" text-anchor="middle" fill="#000" textLength="80.60" lengthAdjust="spacingAndGlyphs" >Block Input</text>
<text x="401.00" y="425.50" font-family="'Liberation Serif', serif" font-size="16.2" text-anchor="middle" fill="#000" textLength="106.00" lengthAdjust="spacingAndGlyphs" >Global Forecast</text>
<text x="400.70" y="445.60" font-family="'Liberation Serif', serif" font-size="16.2" text-anchor="middle" fill="#000" textLength="103.70" lengthAdjust="spacingAndGlyphs" >(model output)</text>
<text x="599.80" y="423.70" font-family="'Liberation Serif', serif" font-size="16.2" text-anchor="middle" fill="#000" textLength="100.10" lengthAdjust="spacingAndGlyphs" >Stack Residual</text>
<text x="600.00" y="445.00" font-family="'Liberation Serif', serif" font-size="16.2" text-anchor="middle" fill="#000" textLength="99.70" lengthAdjust="spacingAndGlyphs" >(to next stack)</text>
<text x="779.80" y="420.40" font-family="'Liberation Serif', serif" font-size="16.2" text-anchor="middle" fill="#000" textLength="55.60" lengthAdjust="spacingAndGlyphs" >Forecast</text>
<text x="858.00" y="420.80" font-family="'Liberation Serif', serif" font-size="16.2" text-anchor="middle" fill="#000" textLength="58.90" lengthAdjust="spacingAndGlyphs" >Backcast</text>
<text x="533.80" y="238.00" font-family="'Liberation Serif', serif" font-size="8.8" text-anchor="start" fill="#000" textLength="21.40" lengthAdjust="spacingAndGlyphs" >Stack</text>
<text x="533.80" y="249.80" font-family="'Liberation Serif', serif" font-size="8.8" text-anchor="start" fill="#000" textLength="29.80" lengthAdjust="spacingAndGlyphs" >forecast</text>
<text x="448.40" y="96.70" font-family="'Liberation Serif', serif" font-size="15.4" font-weight="bold" fill="#000">y</text><text x="456.00" y="100.70" font-family="'Liberation Serif', serif" font-size="10.4" font-style="italic" fill="#000" textLength="22.80" lengthAdjust="spacingAndGlyphs">t−L:t</text>
<text x="621.80" y="97.80" font-family="'Liberation Serif', serif" font-size="15.4" font-weight="bold" fill="#000">y</text><text x="629.40" y="101.80" font-family="'Liberation Serif', serif" font-size="10.4" font-style="italic" fill="#000" textLength="41.10" lengthAdjust="spacingAndGlyphs">t−L:t,s−<tspan font-style="normal">1</tspan></text>
<text x="793.00" y="98.30" font-family="'Liberation Serif', serif" font-size="15.4" font-weight="bold" fill="#000">y</text><text x="800.60" y="102.30" font-family="'Liberation Serif', serif" font-size="10.4" font-style="italic" fill="#000" textLength="42.70" lengthAdjust="spacingAndGlyphs">t−L:t,ℓ−<tspan font-style="normal">1</tspan></text>
<text x="378.80" y="465.80" font-family="'Liberation Serif', serif" font-size="15.4" font-weight="bold" fill="#000">y</text><text x="380.40" y="465.20" font-family="'Liberation Serif', serif" font-size="15.4" font-weight="bold" fill="#000">ˆ</text><text x="386.40" y="469.80" font-family="'Liberation Serif', serif" font-size="10.4" font-style="italic" fill="#000" textLength="36.90" lengthAdjust="spacingAndGlyphs">t+<tspan font-style="normal">1</tspan>:t+H</text>
<text x="581.60" y="465.20" font-family="'Liberation Serif', serif" font-size="15.4" font-weight="bold" fill="#000">y</text><text x="589.20" y="469.20" font-family="'Liberation Serif', serif" font-size="10.4" font-style="italic" fill="#000" textLength="29.30" lengthAdjust="spacingAndGlyphs">t−L:t,s</text>
<text x="753.60" y="440.00" font-family="'Liberation Serif', serif" font-size="15.4" font-weight="bold" fill="#000">y</text><text x="755.20" y="439.40" font-family="'Liberation Serif', serif" font-size="15.4" font-weight="bold" fill="#000">ˆ</text><text x="761.20" y="444.00" font-family="'Liberation Serif', serif" font-size="10.4" font-style="italic" fill="#000" textLength="45.70" lengthAdjust="spacingAndGlyphs">t+<tspan font-style="normal">1</tspan>:t+H,ℓ</text>
<text x="838.40" y="440.00" font-family="'Liberation Serif', serif" font-size="15.4" font-weight="bold" fill="#000">y</text><text x="840.00" y="439.40" font-family="'Liberation Serif', serif" font-size="15.4" font-weight="bold" fill="#000">˜</text><text x="846.00" y="444.00" font-family="'Liberation Serif', serif" font-size="10.4" font-style="italic" fill="#000" textLength="31.20" lengthAdjust="spacingAndGlyphs">t−L:t,ℓ</text>
<polyline points="585.50,257.30 531.80,257.30" fill="none" stroke="#b4b4b4" stroke-width="1.1" /><polygon points="528.80,257.30 534.40,260.30 532.90,257.30 534.40,254.30" fill="#b4b4b4"/>
<polyline points="645.50,105.50 645.50,143.40" fill="none" stroke="#aaa7a0" stroke-width="1.5" /><polygon points="645.50,146.40 648.50,140.80 645.50,142.30 642.50,140.80" fill="#aaa7a0"/>
<polyline points="645.50,133.50 691.00,133.50 691.00,189.20 666.20,189.20" fill="none" stroke="#aaa7a0" stroke-width="1.5" /><polygon points="663.20,189.20 668.80,192.20 667.30,189.20 668.80,186.20" fill="#aaa7a0"/>
<polyline points="658.80,174.00 658.80,181.80" fill="none" stroke="#aaa7a0" stroke-width="1.5" /><polygon points="658.80,184.80 661.80,179.20 658.80,180.70 655.80,179.20" fill="#aaa7a0"/>
<polyline points="621.40,174.00 621.40,193.00 589.40,193.00 589.40,250.20" fill="none" stroke="#aaa7a0" stroke-width="1.5" /><polygon points="589.40,253.20 592.40,247.60 589.40,249.10 586.40,247.60" fill="#aaa7a0"/>
<polyline points="658.90,193.00 658.90,201.70" fill="none" stroke="#aaa7a0" stroke-width="1.5" />
<polyline points="692.40,256.60 692.40,201.70 639.50,201.70 639.50,210.30" fill="none" stroke="#aaa7a0" stroke-width="1.5" /><polygon points="639.50,213.30 642.50,207.70 639.50,209.20 636.50,207.70" fill="#aaa7a0"/>
<polyline points="692.40,255.00 692.40,256.60 666.40,256.60" fill="none" stroke="#aaa7a0" stroke-width="1.5" /><polygon points="663.40,256.60 669.00,259.60 667.50,256.60 669.00,253.60" fill="#aaa7a0"/>
<polyline points="659.00,241.00 659.00,249.20" fill="none" stroke="#aaa7a0" stroke-width="1.5" /><polygon points="659.00,252.20 662.00,246.60 659.00,248.10 656.00,246.60" fill="#aaa7a0"/>
<polyline points="622.40,241.00 622.40,257.50 597.00,257.50" fill="none" stroke="#aaa7a0" stroke-width="1.5" /><polygon points="594.00,257.50 599.60,260.50 598.10,257.50 599.60,254.50" fill="#aaa7a0"/>
<polyline points="659.00,260.50 659.00,268.50" fill="none" stroke="#aaa7a0" stroke-width="1.5" />
<polyline points="659.00,268.50 644.60,268.50 644.60,273.40" fill="none" stroke="#aaa7a0" stroke-width="1.5" /><polygon points="644.60,276.40 647.60,270.80 644.60,272.30 641.60,270.80" fill="#aaa7a0"/>
<polyline points="659.00,268.50 692.00,268.50 692.00,273.40" fill="none" stroke="#aaa7a0" stroke-width="1.5" /><polygon points="692.00,276.40 695.00,270.80 692.00,272.30 689.00,270.80" fill="#aaa7a0"/>
<polyline points="608.60,275.80 595.19,263.25" fill="none" stroke="#aaa7a0" stroke-width="1.5" /><polygon points="593.00,261.20 595.04,267.22 595.99,264.00 599.14,262.84" fill="#aaa7a0"/>
<polyline points="644.60,285.80 644.60,307.60" fill="none" stroke="#aaa7a0" stroke-width="1.5" /><polygon points="644.60,310.60 647.60,305.00 644.60,306.50 641.60,305.00" fill="#aaa7a0"/>
<polyline points="691.80,285.80 691.80,353.70 666.40,353.70" fill="none" stroke="#aaa7a0" stroke-width="1.5" /><polygon points="663.40,353.70 669.00,356.70 667.50,353.70 669.00,350.70" fill="#aaa7a0"/>
<polyline points="659.00,338.00 659.00,346.20" fill="none" stroke="#aaa7a0" stroke-width="1.5" /><polygon points="659.00,349.20 662.00,343.60 659.00,345.10 656.00,343.60" fill="#aaa7a0"/>
<polyline points="625.80,338.00 625.80,356.80 589.40,356.80 589.40,264.80" fill="none" stroke="#aaa7a0" stroke-width="1.5" /><polygon points="589.40,261.80 586.40,267.40 589.40,265.90 592.40,267.40" fill="#aaa7a0"/>
<polyline points="659.30,357.50 659.30,420.20" fill="none" stroke="#a9a9a9" stroke-width="1.5" /><polygon points="659.30,423.20 662.30,417.60 659.30,419.10 656.30,417.60" fill="#a9a9a9"/>
<circle cx="658.9" cy="201.7" r="2.4" fill="#aaa7a0"/>
<circle cx="659" cy="268.5" r="2.4" fill="#aaa7a0"/>
<rect x="605.00" y="147.60" width="79.20" height="27.10" rx="3" fill="#dedede"/><text x="644.60" y="166.60" font-family="'Liberation Serif', serif" font-size="16.2" text-anchor="middle" fill="#000" textLength="51.00" lengthAdjust="spacingAndGlyphs" >Block 1</text>
<rect x="605.00" y="214.00" width="79.20" height="27.50" rx="3" fill="#dedede"/><text x="644.60" y="233.30" font-family="'Liberation Serif', serif" font-size="16.2" text-anchor="middle" fill="#000" textLength="51.00" lengthAdjust="spacingAndGlyphs" >Block 2</text>
<rect x="603.30" y="311.00" width="78.60" height="27.40" rx="3" fill="#dedede"/><text x="642.60" y="330.20" font-family="'Liberation Serif', serif" font-size="16.2" text-anchor="middle" fill="#000" textLength="53.50" lengthAdjust="spacingAndGlyphs" >Block B</text>
<circle cx="658.90" cy="189.20" r="3.6" fill="#fff" stroke="#111" stroke-width="1.2"/><line x1="657.10" y1="189.20" x2="660.70" y2="189.20" stroke="#999" stroke-width="0.7"/>
<circle cx="659.00" cy="256.60" r="3.6" fill="#fff" stroke="#111" stroke-width="1.2"/><line x1="657.20" y1="256.60" x2="660.80" y2="256.60" stroke="#999" stroke-width="0.7"/>
<circle cx="659.00" cy="353.60" r="3.6" fill="#fff" stroke="#111" stroke-width="1.2"/><line x1="657.20" y1="353.60" x2="660.80" y2="353.60" stroke="#999" stroke-width="0.7"/>
<circle cx="589.40" cy="257.40" r="3.6" fill="#fff" stroke="#111" stroke-width="1.2"/><line x1="587.60" y1="257.40" x2="591.20" y2="257.40" stroke="#999" stroke-width="0.7"/><line x1="589.40" y1="255.60" x2="589.40" y2="259.20" stroke="#999" stroke-width="0.7"/>
<circle cx="605.50" cy="280.80" r="0.85" fill="#444"/><circle cx="610.10" cy="280.80" r="0.85" fill="#444"/><circle cx="614.70" cy="280.80" r="0.85" fill="#444"/>
<circle cx="639.80" cy="280.80" r="0.85" fill="#444"/><circle cx="644.40" cy="280.80" r="0.85" fill="#444"/><circle cx="649.00" cy="280.80" r="0.85" fill="#444"/>
<circle cx="685.00" cy="280.80" r="0.85" fill="#444"/><circle cx="689.60" cy="280.80" r="0.85" fill="#444"/><circle cx="694.20" cy="280.80" r="0.85" fill="#444"/>
<polyline points="817.60,103.00 817.60,146.60" fill="none" stroke="#a9a9a9" stroke-width="1.5" /><polygon points="817.60,149.60 820.60,144.00 817.60,145.50 814.60,144.00" fill="#a9a9a9"/>
<polyline points="817.60,223.80 784.80,223.80 784.80,228.40" fill="none" stroke="#a9a9a9" stroke-width="1.5" /><polygon points="784.80,231.40 787.80,225.80 784.80,227.30 781.80,225.80" fill="#a9a9a9"/>
<polyline points="817.60,223.80 855.40,223.80 855.40,228.40" fill="none" stroke="#a9a9a9" stroke-width="1.5" /><polygon points="855.40,231.40 858.40,225.80 855.40,227.30 852.40,225.80" fill="#a9a9a9"/>
<polyline points="785.00,260.00 785.00,273.80" fill="none" stroke="#a9a9a9" stroke-width="1.5" /><polygon points="785.00,276.80 788.00,271.20 785.00,272.70 782.00,271.20" fill="#a9a9a9"/>
<polyline points="854.40,260.00 854.40,273.80" fill="none" stroke="#a9a9a9" stroke-width="1.5" /><polygon points="854.40,276.80 857.40,271.20 854.40,272.70 851.40,271.20" fill="#a9a9a9"/>
<polyline points="785.00,305.00 785.00,321.40" fill="none" stroke="#a9a9a9" stroke-width="1.5" /><polygon points="785.00,324.40 788.00,318.80 785.00,320.30 782.00,318.80" fill="#a9a9a9"/>
<polyline points="854.40,305.00 854.40,321.40" fill="none" stroke="#a9a9a9" stroke-width="1.5" /><polygon points="854.40,324.40 857.40,318.80 854.40,320.30 851.40,318.80" fill="#a9a9a9"/>
<polyline points="785.10,351.00 785.10,398.00" fill="none" stroke="#a9a9a9" stroke-width="1.5" /><polygon points="785.10,401.00 788.10,395.40 785.10,396.90 782.10,395.40" fill="#a9a9a9"/>
<polyline points="853.80,351.00 853.80,398.00" fill="none" stroke="#a9a9a9" stroke-width="1.5" /><polygon points="853.80,401.00 856.80,395.40 853.80,396.90 850.80,395.40" fill="#a9a9a9"/>
<rect x="773.50" y="153.10" width="89.80" height="27.70" rx="3" fill="#08518f"/><text x="818.40" y="172.00" font-family="'Liberation Serif', serif" font-size="16.2" text-anchor="middle" fill="#fff" textLength="61.00" lengthAdjust="spacingAndGlyphs" stroke="#fff" stroke-width="0.25">MaxPool</text>
<rect x="774.10" y="186.30" width="89.80" height="27.20" rx="3" fill="#dddfe2"/><text x="819.00" y="205.20" font-family="'Liberation Serif', serif" font-size="16.2" text-anchor="middle" fill="#000" textLength="77.00" lengthAdjust="spacingAndGlyphs" >MLP Stack</text>
<rect x="766.50" y="233.00" width="36.30" height="27.30" rx="3" fill="#dddfe2"/><text x="784.65" y="251.70" font-family="'Liberation Serif', serif" font-size="16" text-anchor="middle" fill="#000" textLength="32.00" lengthAdjust="spacingAndGlyphs" >MLP</text>
<rect x="835.00" y="233.00" width="36.30" height="27.30" rx="3" fill="#dddfe2"/><text x="853.15" y="252.50" font-family="'Liberation Serif', serif" font-size="16" text-anchor="middle" fill="#000" textLength="32.00" lengthAdjust="spacingAndGlyphs" >MLP</text>
<rect x="766.30" y="277.90" width="37.50" height="27.30" rx="3" fill="#dddfe2"/>
<rect x="836.00" y="277.90" width="37.90" height="27.30" rx="3" fill="#dddfe2"/>
<text x="776.60" y="296.20" font-family="'Liberation Serif', serif" font-style="italic" fill="#000" stroke="#000" stroke-width="0.25" font-size="17.5">θ</text><text x="785.60" y="290.60" font-family="'Liberation Serif', serif" font-style="italic" fill="#000" stroke="#000" stroke-width="0.25" font-size="10.8">f</text><text x="784.20" y="302.40" font-family="'Liberation Serif', serif" font-style="italic" fill="#000" stroke="#000" stroke-width="0.25" font-size="10.8">l</text>
<text x="846.50" y="296.20" font-family="'Liberation Serif', serif" font-style="italic" fill="#000" stroke="#000" stroke-width="0.25" font-size="17.5">θ</text><text x="854.60" y="290.60" font-family="'Liberation Serif', serif" font-style="italic" fill="#000" stroke="#000" stroke-width="0.25" font-size="10.8">b</text><text x="853.80" y="302.40" font-family="'Liberation Serif', serif" font-style="italic" fill="#000" stroke="#000" stroke-width="0.25" font-size="10.8">l</text>
<rect x="766.40" y="325.10" width="37.20" height="25.90" rx="1" fill="#08518f"/><line x1="774.70" y1="346.15" x2="794.70" y2="329.95" stroke="#fff" stroke-width="1.1"/><circle cx="774.70" cy="346.15" r="1.7" fill="#fff"/><circle cx="784.70" cy="338.05" r="1.7" fill="#fff"/><circle cx="794.70" cy="329.95" r="1.7" fill="#fff"/>
<rect x="835.50" y="325.10" width="37.30" height="25.90" rx="1" fill="#08518f"/><line x1="843.85" y1="346.15" x2="863.85" y2="329.95" stroke="#fff" stroke-width="1.1"/><circle cx="843.85" cy="346.15" r="1.7" fill="#fff"/><circle cx="853.85" cy="338.05" r="1.7" fill="#fff"/><circle cx="863.85" cy="329.95" r="1.7" fill="#fff"/>
</svg>
</body>
</html>
